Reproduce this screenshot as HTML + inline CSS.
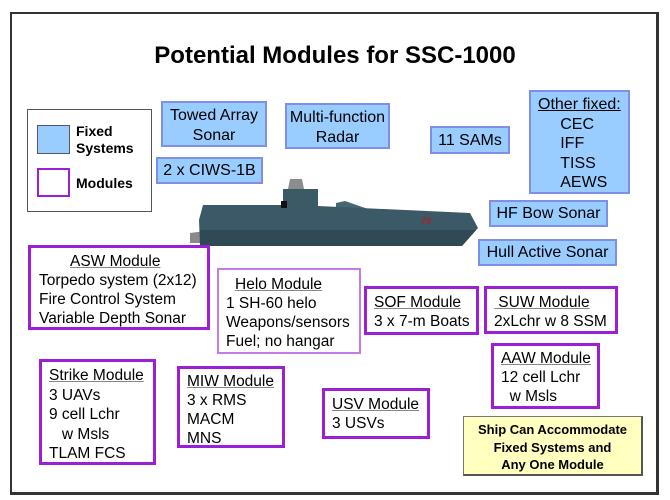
<!DOCTYPE html>
<html><head><meta charset="utf-8"><style>
body{margin:0;width:670px;height:500px;background:#fff;position:relative;overflow:hidden;font-family:"Liberation Sans",Arial,sans-serif;color:#000}
.a{position:absolute;box-sizing:border-box}
.f{background:#99ccff;border:2px solid #7f8fe8;font-size:16px;text-align:center;line-height:20px}
.m{border:3px solid #9b1fd6;background:#fff;font-size:15.5px;line-height:19px;padding:3px 0 0 7px;white-space:nowrap}
.u{text-decoration:underline;text-decoration-color:#888}
</style></head><body>
<div class="a" style="left:10px;top:12px;width:649px;height:483px;border:2px solid #333;border-right-width:3px;border-bottom-width:3px"></div>
<div class="a" style="left:0;top:42px;width:670px;text-align:center;font-size:24px;font-weight:bold;">Potential Modules for SSC-1000</div>

<div class="a" style="left:27px;top:109px;width:125px;height:103px;border:1px solid #555;background:#fff"></div>
<div class="a" style="left:37px;top:125px;width:33px;height:29px;background:#99ccff;border:1px solid #556"></div>
<div class="a" style="left:37px;top:168px;width:33px;height:29px;border:2px solid #9b1fd6"></div>
<div class="a" style="left:76px;top:123px;font-size:14px;font-weight:bold;line-height:17px">Fixed<br>Systems</div>
<div class="a" style="left:76px;top:175px;font-size:14px;font-weight:bold">Modules</div>

<div class="a f" style="left:161px;top:101px;width:106px;height:46px;padding-top:3px">Towed Array<br>Sonar</div>
<div class="a f" style="left:285px;top:103px;width:105px;height:46px;padding-top:3px">Multi-function<br>Radar</div>
<div class="a f" style="left:156px;top:157px;width:107px;height:27px;padding-top:2px">2 x CIWS-1B</div>
<div class="a f" style="left:430px;top:126px;width:80px;height:28px;padding-top:3px">11 SAMs</div>
<div class="a f" style="left:529px;top:90px;width:101px;height:104px;text-align:left;padding:3px 0 0 7px;line-height:19.5px"><span style="text-decoration:underline">Other fixed:</span><br>&nbsp;&nbsp;&nbsp;&nbsp;&nbsp;CEC<br>&nbsp;&nbsp;&nbsp;&nbsp;&nbsp;IFF<br>&nbsp;&nbsp;&nbsp;&nbsp;&nbsp;TISS<br>&nbsp;&nbsp;&nbsp;&nbsp;&nbsp;AEWS</div>
<div class="a f" style="left:489px;top:200px;width:119px;height:27px;padding-top:2px">HF Bow Sonar</div>
<div class="a f" style="left:478px;top:239px;width:139px;height:27px;padding-top:2px">Hull Active Sonar</div>

<svg class="a" style="left:0;top:0" width="670" height="500">
<polygon points="190,233 205,231 205,243 190,243" fill="#8a8a8a"/>
<polygon points="290,179 302,179 304,189 288,189" fill="#8d8d8d"/>
<polygon points="283,189 318,189 318,206 283,206" fill="#3c5a66"/>
<polygon points="336,203 345,201 368,209 360,212 336,210" fill="#456673"/>
<polygon points="203,205 283,205 318,206 470,213 478,228 462,246 200,246 199,220" fill="#3b5966"/>
<polygon points="200,230 476,230 462,246 200,246" fill="#2f4a55"/>
<rect x="281" y="201" width="6" height="7" fill="#111"/>
<text x="421" y="224" font-family="Liberation Sans" font-size="9" font-weight="bold" fill="#a22">73</text>
</svg>

<div class="a m" style="left:28px;top:245px;width:182px;height:85px;padding-left:8px;padding-top:4px"><div class="u" style="padding-left:31px">ASW Module</div>Torpedo system (2x12)<br>Fire Control System<br>Variable Depth Sonar</div>
<div class="a m" style="left:217px;top:268px;width:144px;height:86px;border-width:2px;border-color:#c47ae8;padding-top:5px"><div class="u" style="padding-left:9px">Helo Module</div>1 SH-60 helo<br>Weapons/sensors<br>Fuel; no hangar</div>
<div class="a m" style="left:364px;top:286px;width:115px;height:49px;padding-top:4px"><span class="u">SOF Module</span><br>3 x 7-m Boats</div>
<div class="a m" style="left:484px;top:286px;width:134px;height:48px;padding-top:4px"><span class="u">&nbsp;SUW Module</span><br>2xLchr w 8 SSM</div>
<div class="a m" style="left:491px;top:343px;width:109px;height:66px"><span class="u">AAW Module</span><br>12 cell Lchr<br>&nbsp;&nbsp;w Msls</div>
<div class="a m" style="left:39px;top:359px;width:117px;height:106px;padding-top:4px;line-height:19.5px"><span class="u">Strike Module</span><br>3 UAVs<br>9 cell Lchr<br>&nbsp;&nbsp;&nbsp;w Msls<br>TLAM FCS</div>
<div class="a m" style="left:177px;top:366px;width:108px;height:82px;padding-top:3px"><span class="u">MIW Module</span><br>3 x RMS<br>MACM<br>MNS</div>
<div class="a m" style="left:322px;top:388px;width:108px;height:51px;padding-top:4px"><span class="u">USV Module</span><br>3 USVs</div>

<div class="a" style="left:463px;top:416px;width:180px;height:60px;background:#ffffc0;border:1px solid #777;border-right:2px solid #555;border-bottom:2px solid #555;text-align:center;font-size:13px;font-weight:bold;line-height:17.5px;padding-top:4px">Ship Can Accommodate<br>Fixed Systems and<br>Any One Module</div>
</body></html>
